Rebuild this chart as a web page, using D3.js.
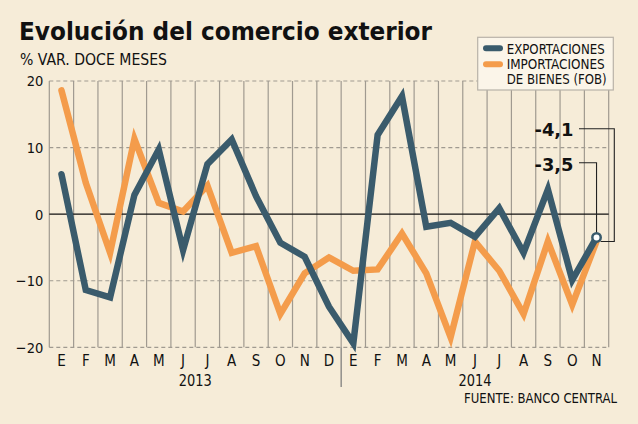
<!DOCTYPE html>
<html><head><meta charset="utf-8">
<script src="https://cdn.jsdelivr.net/npm/d3@7/dist/d3.min.js"></script>
<style>
html,body{margin:0;padding:0;background:#f6ecd8;}
svg{display:block;}
</style></head>
<body>
<svg id="chart" width="638" height="424"></svg>
<script>
const months = ["E","F","M","A","M","J","J","A","S","O","N","D","E","F","M","A","M","J","J","A","S","O","N"];
const years = [{label:"2013", from:0, to:11},{label:"2014", from:12, to:22}];
const exportaciones = [6.0,-11.4,-12.5,2.9,9.7,-5.4,7.5,11.2,2.7,-4.3,-6.4,-13.9,-19.4,11.9,17.7,-1.9,-1.3,-3.4,0.9,-5.8,3.7,-9.9,-3.5];
const importaciones = [18.6,4.7,-5.8,11.3,1.7,0.4,4.3,-5.8,-4.8,-15.0,-8.9,-6.5,-8.5,-8.3,-2.9,-8.9,-18.5,-4.1,-8.5,-15.0,-4.1,-13.6,-4.1];
const yTicks = [20,10,0,-10,-20];
const seriesNames = ["EXPORTACIONES",["IMPORTACIONES","DE BIENES (FOB)"]];
const lastLabels = ["-4,1","-3,5"];

const C_EXP = "#3a5b6c", C_IMP = "#f49c4b";
const FONT = "'DejaVu Sans Condensed','DejaVu Sans',sans-serif";
const svg = d3.select("#chart");
svg.append("rect").attr("width",638).attr("height",424).attr("fill","#f6ecd8");

const x = d3.scaleBand().domain(d3.range(months.length)).range([49.3,608.7]);
const y = d3.scaleLinear().domain([-20,20]).range([347.3,81]);
const cx = i => x(i) + x.bandwidth()/2;

function fitText(sel, w){ sel.attr("textLength", w).attr("lengthAdjust","spacingAndGlyphs"); }
svg.append("text").attr("x",19).attr("y",40).attr("font-family","'DejaVu Sans',sans-serif")
  .attr("font-weight","bold").attr("font-size",25).attr("fill","#111")
  .text("Evolución del comercio exterior").call(fitText,413);
svg.append("text").attr("x",20).attr("y",65).attr("font-family",FONT)
  .attr("font-size",15.5).attr("fill","#111").text("% VAR. DOCE MESES").call(fitText,147);

// vertical gridlines
const g = svg.append("g");
d3.range(months.length+1).forEach(i=>{
  const xx = i<months.length ? x(i) : x.range()[1];
  g.append("line").attr("x1",xx).attr("x2",xx).attr("y1",y(20)).attr("y2",y(-20))
   .attr("stroke","#a09a90").attr("stroke-width",1.2);
});
// horizontal
yTicks.forEach(t=>{
  g.append("line").attr("x1",x.range()[0]).attr("x2",x.range()[1]).attr("y1",y(t)).attr("y2",y(t))
   .attr("stroke", t===0?"#111":"#a09a90").attr("stroke-width", t===0?1.3:1.2)
   .attr("stroke-dasharray", t===0?null:"4,3");
});
// y axis labels
const yAxis = d3.axisLeft(y).tickValues(yTicks).tickSize(0).tickPadding(6);
const ya = svg.append("g").attr("transform",`translate(${x.range()[0]},0)`).call(yAxis);
ya.select(".domain").remove();
ya.selectAll("text").attr("font-family",FONT).attr("font-size",14.5).attr("fill","#111").attr("dy","0.34em");

// x axis labels
const xAxis = d3.axisBottom(x).tickFormat(i=>months[i]).tickSize(0).tickPadding(8);
const xa = svg.append("g").attr("transform",`translate(0,${y(-20)})`).call(xAxis);
xa.select(".domain").remove();
xa.selectAll("text").attr("font-family",FONT).attr("font-size",15).attr("fill","#111");

// year separator and labels
svg.append("line").attr("x1",x(12)).attr("x2",x(12)).attr("y1",y(-20)).attr("y2",387)
  .attr("stroke","#777").attr("stroke-width",1.2);
years.forEach(yr=>{
  svg.append("text").attr("x",(cx(yr.from)+cx(yr.to))/2).attr("y",386).attr("text-anchor","middle")
    .attr("font-family",FONT).attr("font-size",16).attr("fill","#111").text(yr.label).call(fitText,33);
});
svg.append("text").attr("x",617).attr("y",402.5).attr("text-anchor","end")
  .attr("font-family",FONT).attr("font-size",14.5).attr("fill","#111").text("FUENTE: BANCO CENTRAL").call(fitText,153);

// lines
const line = d3.line().x((d,i)=>cx(i)).y(d=>y(d)).curve(d3.curveLinear);
svg.append("path").datum(importaciones).attr("d",line).attr("fill","none")
  .attr("stroke",C_IMP).attr("stroke-width",6.5).attr("stroke-linejoin","miter").attr("stroke-linecap","round");
svg.append("path").datum(exportaciones).attr("d",line).attr("fill","none")
  .attr("stroke",C_EXP).attr("stroke-width",6.5).attr("stroke-linejoin","miter").attr("stroke-linecap","round");

// annotations
const last = months.length-1;
const lx = cx(last);
const ann = svg.append("g");
ann.append("path").attr("d",`M579,128.7H614.3V${y(importaciones[last])}H${lx+4}`)
  .attr("fill","none").attr("stroke","#222").attr("stroke-width",1.1);
ann.append("path").attr("d",`M579,162.7H${lx}V${y(exportaciones[last])}`)
  .attr("fill","none").attr("stroke","#222").attr("stroke-width",1.1);
svg.append("circle").attr("cx",lx).attr("cy",y(exportaciones[last])).attr("r",4.2)
  .attr("fill","#fff").attr("stroke",C_EXP).attr("stroke-width",2.5);
[[lastLabels[0],136],[lastLabels[1],170.5]].forEach(([t,yy])=>{
  svg.append("text").attr("x",573.5).attr("y",yy).attr("text-anchor","end")
    .attr("font-family","'DejaVu Sans',sans-serif").attr("font-weight","bold").attr("font-size",17)
    .attr("fill","#111").text(t).call(fitText,39);
});

// legend
const lg = svg.append("g");
lg.append("rect").attr("x",477.7).attr("y",37.3).attr("width",135.6).attr("height",52.7)
  .attr("fill","#fbf5e9").attr("stroke","#b8b2a8").attr("stroke-width",1.2);
lg.append("line").attr("x1",486).attr("x2",500).attr("y1",48.3).attr("y2",48.3)
  .attr("stroke",C_EXP).attr("stroke-width",6).attr("stroke-linecap","round");
lg.append("line").attr("x1",486).attr("x2",500).attr("y1",64.3).attr("y2",64.3)
  .attr("stroke",C_IMP).attr("stroke-width",6).attr("stroke-linecap","round");
lg.append("text").attr("x",506.7).attr("y",53.5).attr("font-family",FONT).attr("font-size",14)
  .attr("fill","#111").text(seriesNames[0]).call(fitText,98);
lg.append("text").attr("x",506.7).attr("y",69.3).attr("font-family",FONT).attr("font-size",14)
  .attr("fill","#111").text(seriesNames[1][0]).call(fitText,98);
lg.append("text").attr("x",506.7).attr("y",84).attr("font-family",FONT).attr("font-size",14)
  .attr("fill","#111").text(seriesNames[1][1]).call(fitText,100);
</script>
</body></html>
